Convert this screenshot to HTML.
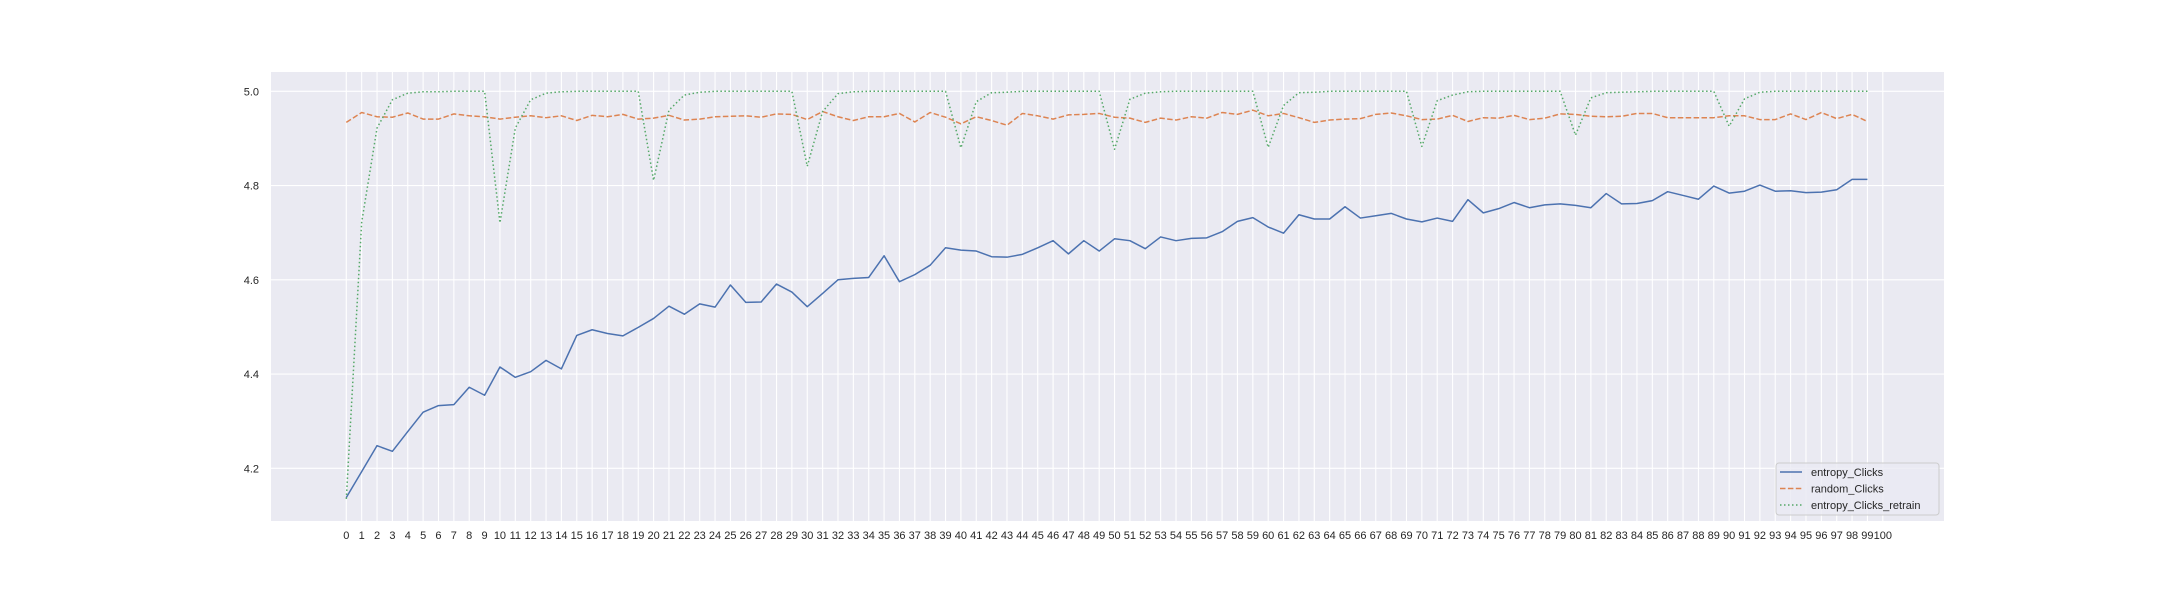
<!DOCTYPE html>
<html><head><meta charset="utf-8"><style>
html,body{margin:0;padding:0;background:#fff;}
svg{display:block;font-family:"Liberation Sans","DejaVu Sans",sans-serif;}
</style></head><body>
<svg id="chart" width="2160" height="595" viewBox="0 0 2160 595" xmlns="http://www.w3.org/2000/svg">
<rect x="0" y="0" width="2160" height="595" fill="#ffffff"/>
<rect x="271" y="72" width="1673" height="449" fill="#EAEAF2"/>
<g id="grid"></g>
<g id="xticks"></g>
<g id="yticks"></g>
<g id="series"></g>
<g id="legend"></g>
</svg>
<script>
const xCategories = Array.from({length:101},(_,i)=>i);
const yTicks = [4.2,4.4,4.6,4.8,5.0];
const yTickLabels = ["4.2","4.4","4.6","4.8","5.0"];
const seriesNames = ["entropy_Clicks","random_Clicks","entropy_Clicks_retrain"];
const entropyClicks = [4.138,4.193,4.248,4.236,4.278,4.319,4.333,4.335,4.372,4.355,
4.415,4.393,4.405,4.429,4.411,4.482,4.494,4.486,4.481,4.499,
4.518,4.544,4.527,4.549,4.542,4.589,4.552,4.553,4.591,4.574,
4.543,4.571,4.600,4.603,4.605,4.651,4.596,4.611,4.631,4.668,
4.663,4.661,4.649,4.648,4.654,4.668,4.683,4.655,4.683,4.661,
4.687,4.683,4.666,4.691,4.683,4.688,4.689,4.702,4.724,4.732,
4.712,4.699,4.738,4.729,4.729,4.755,4.731,4.736,4.741,4.729,
4.723,4.731,4.724,4.770,4.742,4.751,4.764,4.753,4.759,4.761,
4.758,4.753,4.783,4.761,4.762,4.768,4.787,4.779,4.771,4.799,
4.784,4.788,4.801,4.788,4.789,4.785,4.786,4.791,4.813,4.813];
const randomClicks = [4.934,4.955,4.946,4.945,4.954,4.941,4.941,4.952,4.948,4.946,
4.941,4.945,4.948,4.944,4.948,4.938,4.949,4.946,4.951,4.941,
4.943,4.949,4.939,4.941,4.946,4.947,4.948,4.945,4.952,4.951,
4.940,4.957,4.946,4.938,4.946,4.946,4.953,4.935,4.955,4.945,
4.931,4.946,4.938,4.928,4.953,4.948,4.941,4.950,4.951,4.953,
4.945,4.943,4.934,4.943,4.939,4.946,4.943,4.955,4.951,4.960,
4.948,4.953,4.944,4.934,4.939,4.941,4.942,4.951,4.954,4.948,
4.940,4.941,4.949,4.936,4.944,4.943,4.949,4.940,4.943,4.952,
4.951,4.947,4.946,4.947,4.953,4.953,4.944,4.944,4.944,4.944,
4.948,4.948,4.940,4.940,4.952,4.940,4.955,4.942,4.951,4.936];
const entropyClicksRetrain = [4.135,4.722,4.922,4.982,4.996,4.999,4.999,5.0,5.0,5.0,
4.721,4.922,4.982,4.996,4.999,5.0,5.0,5.0,5.0,5.0,
4.811,4.960,4.992,4.998,5.0,5.0,5.0,5.0,5.0,5.0,
4.841,4.957,4.995,4.999,5.0,5.0,5.0,5.0,5.0,5.0,
4.880,4.978,4.997,4.998,5.0,5.0,5.0,5.0,5.0,5.0,
4.877,4.983,4.996,4.999,5.0,5.0,5.0,5.0,5.0,5.0,
4.881,4.970,4.997,4.998,5.0,5.0,5.0,5.0,5.0,5.0,
4.883,4.980,4.992,4.999,5.0,5.0,5.0,5.0,5.0,5.0,
4.907,4.986,4.997,4.998,4.999,5.0,5.0,5.0,5.0,5.0,
4.926,4.984,4.998,5.0,5.0,5.0,5.0,5.0,5.0,5.0];

const NS="http://www.w3.org/2000/svg";
const X0=346.3, XSTEP=15.365;
const Y_A=91.3, Y_B=468.3; // pixel for 5.0 and 4.2
function xScale(i){return X0+i*XSTEP;}
function yScale(v){return Y_B+(4.2-v)*(Y_B-Y_A)/0.8;}
function mk(tag,attrs,parent){const e=document.createElementNS(NS,tag);for(const k in attrs)e.setAttribute(k,attrs[k]);parent.appendChild(e);return e;}

const grid=document.getElementById('grid');
const xt=document.getElementById('xticks');
const yt=document.getElementById('yticks');
xCategories.forEach((c,i)=>{
  const x=xScale(i);
  const l=mk('line',{x1:x,x2:x,y1:72,y2:521,stroke:'#ffffff','stroke-width':1.1},grid);
  
  
  const t=mk('text',{x:x,y:539,'text-anchor':'middle','font-size':'11','fill':'#262626'},xt);
  t.textContent=String(c);
  
  
});
yTicks.forEach((v,i)=>{
  const y=yScale(v);
  const l=mk('line',{x1:271,x2:1944,y1:y,y2:y,stroke:'#ffffff','stroke-width':1.1},grid);
  
  
  const t=mk('text',{x:259,y:y+4,'text-anchor':'end','font-size':'11','fill':'#262626'},yt);
  t.textContent=yTickLabels[i];
  
  
});

const styles=[
  {color:'#4C72B0',dash:'',name:'entropy-clicks-line'},
  {color:'#DD8452',dash:'5.5,2.4',name:'random-clicks-line'},
  {color:'#55A868',dash:'1.5,2.5',name:'entropy-clicks-retrain-line'}
];
const data=[entropyClicks,randomClicks,entropyClicksRetrain];
const sg=document.getElementById('series');
data.forEach((arr,s)=>{
  const d=arr.map((v,i)=>(i?'L':'M')+xScale(i).toFixed(2)+','+yScale(v).toFixed(2)).join(' ');
  const p=mk('path',{d:d,fill:'none',stroke:styles[s].color,'stroke-width':1.5,'stroke-linejoin':'round'},sg);
  if(styles[s].dash)p.setAttribute('stroke-dasharray',styles[s].dash);
  
  
});

const lg=document.getElementById('legend');
const box=mk('rect',{x:1776,y:463,width:163,height:52,rx:3,fill:'#EAEAF2','fill-opacity':0.8,stroke:'#cccccc','stroke-width':1},lg);


seriesNames.forEach((n,s)=>{
  const y=472+s*16.5;
  const l=mk('line',{x1:1780,x2:1802,y1:y,y2:y,stroke:styles[s].color,'stroke-width':1.5},lg);
  if(styles[s].dash)l.setAttribute('stroke-dasharray',styles[s].dash);
  
  
  const t=mk('text',{x:1811,y:y+4,'font-size':'11','fill':'#262626'},lg);
  t.textContent=n;
  
  
});
</script>
</body></html>
